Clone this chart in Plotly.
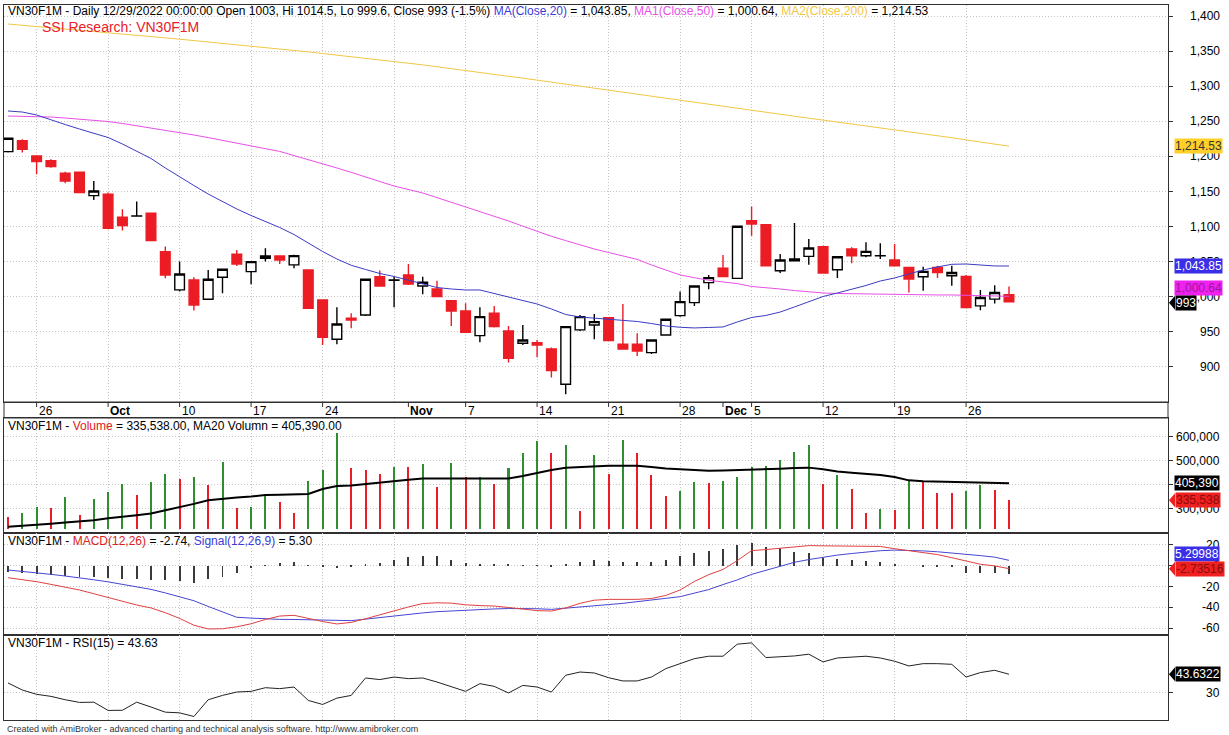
import plotly.graph_objects as go
import pandas as pd

W, H = 1229, 735

# ---------------- data ----------------
dates = pd.bdate_range("2022-09-22", "2022-12-29")

opens = [1206.8, 1222.5, 1200.6, 1194.0, 1175.9, 1177.4, 1144.1, 1146.0, 1113.3, 1115.0,
         1119.0, 1064.3, 1009.8, 1024.0, 996.5, 1027.8, 1060.6, 1035.9, 1054.9, 1058.2,
         1045.4, 1038.2, 995.5, 939.5, 969.4, 974.1, 1028.7, 1023.6, 1031.1, 1015.4,
         1011.1, 994.5, 979.8, 944.7, 976.5, 951.3, 933.8, 934.7, 925.7, 875.4,
         952.8, 959.9, 970.3, 932.3, 932.3, 920.5, 945.6, 973.2, 991.7, 1020.2,
         1040.6, 1026.2, 1108.5, 1102.8, 1037.1, 1051.4, 1057.6, 1071.4, 1038.5, 1068.1,
         1058.5, 1058.4, 1052.4, 1041.9, 1028.5, 1041.9, 1030.0, 1029.0, 987.1, 996.6,
         1003.0]
highs = [1225.8, 1224.4, 1201.0, 1195.9, 1178.3, 1177.8, 1165.0, 1148.4, 1124.7, 1135.6,
         1119.5, 1071.5, 1050.1, 1027.8, 1038.2, 1039.5, 1066.7, 1050.4, 1069.1, 1058.6,
         1060.0, 1038.6, 995.9, 985.1, 976.5, 1025.4, 1037.3, 1028.7, 1046.8, 1028.7,
         1023.0, 994.9, 990.7, 985.0, 986.9, 958.4, 959.9, 938.5, 927.6, 957.9,
         974.1, 975.5, 971.0, 989.8, 948.0, 939.5, 968.4, 1007.4, 1015.8, 1031.1,
         1059.6, 1100.8, 1128.5, 1103.2, 1060.9, 1105.2, 1082.4, 1072.8, 1057.5, 1070.4,
         1077.6, 1076.2, 1075.2, 1042.3, 1042.8, 1044.3, 1044.3, 1030.9, 1009.5, 1016.6,
         1014.5]
lows = [1205.4, 1205.4, 1174.5, 1184.0, 1161.7, 1148.0, 1138.0, 1096.2, 1094.3, 1114.8,
        1079.5, 1026.4, 1007.4, 980.3, 995.5, 1005.0, 1043.9, 1017.8, 1050.1, 1046.8,
        1040.6, 983.2, 931.4, 932.4, 955.2, 972.7, 1014.5, 985.1, 1016.9, 1003.5,
        1000.0, 958.4, 949.0, 935.2, 956.1, 906.2, 931.4, 913.8, 884.9, 861.1,
        951.3, 939.5, 937.2, 925.3, 915.7, 918.6, 945.2, 971.7, 986.9, 1010.7,
        1028.3, 1025.2, 1087.1, 1043.9, 1033.8, 1051.0, 1045.7, 1033.8, 1026.6, 1047.6,
        1056.2, 1053.8, 1043.9, 1006.2, 1008.5, 1026.6, 1015.7, 984.3, 980.9, 990.4,
        993.0]
closes = [1225.8, 1210.1, 1192.6, 1185.4, 1165.0, 1148.4, 1150.8, 1097.6, 1101.4, 1115.2,
          1080.0, 1031.1, 1032.5, 988.4, 1025.0, 1039.2, 1046.8, 1050.1, 1058.2, 1052.5,
          1058.7, 983.6, 942.3, 961.3, 967.0, 1025.0, 1015.4, 1024.0, 1018.3, 1020.6,
          1000.2, 979.8, 949.4, 971.7, 957.5, 912.4, 938.5, 931.4, 894.8, 957.5,
          971.7, 964.6, 937.6, 925.7, 922.8, 938.5, 968.0, 993.1, 1015.4, 1027.3,
          1028.7, 1100.4, 1103.8, 1044.3, 1052.4, 1053.8, 1069.5, 1033.8, 1057.1, 1058.5,
          1064.7, 1058.5, 1044.3, 1025.2, 1036.2, 1034.7, 1034.7, 984.7, 999.0, 1006.2,
          993.0]

ma20 = [1264.7, 1263.2, 1259.0, 1251.9, 1245.4, 1239.0, 1233.3, 1226.9, 1217.7, 1207.7,
        1197.0, 1183.5, 1170.7, 1158.5, 1146.4, 1135.8, 1125.1, 1115.8, 1107.3, 1098.7,
        1088.7, 1076.6, 1064.5, 1053.8, 1044.9, 1038.9, 1033.2, 1028.9, 1024.0, 1019.0,
        1013.2, 1011.1, 1009.7, 1009.7, 1004.7, 999.7, 994.7, 989.7, 982.6, 974.8,
        971.2, 969.8, 967.7, 966.2, 964.8, 961.9, 958.4, 956.6, 955.6, 956.3,
        957.0, 964.1, 970.5, 973.4, 978.3, 985.5, 993.3, 1000.4, 1005.4, 1010.4,
        1016.1, 1022.5, 1026.8, 1032.5, 1038.2, 1042.5, 1046.3, 1046.7, 1045.3, 1043.9,
        1043.85]
ma50 = [1257.5, 1257.1, 1256.6, 1256.1, 1254.7, 1253.3, 1251.9, 1249.7, 1246.9, 1243.7,
        1240.7, 1237.9, 1234.2, 1230.5, 1226.8, 1222.6, 1218.5, 1214.5, 1211.0, 1207.1,
        1201.4, 1195.6, 1189.3, 1183.5, 1177.3, 1171.2, 1164.2, 1157.8, 1153.3, 1147.9,
        1141.3, 1134.8, 1127.9, 1121.4, 1115.1, 1108.0, 1100.6, 1093.2, 1086.2, 1080.0,
        1073.8, 1068.1, 1063.1, 1058.7, 1053.3, 1045.3, 1038.2, 1031.1, 1027.2, 1023.6,
        1021.1, 1018.8, 1014.7, 1013.2, 1011.1, 1008.9, 1006.8, 1005.4, 1004.7, 1004.3,
        1004.0, 1003.7, 1003.3, 1003.0, 1002.8, 1002.6, 1002.6, 1002.1, 1001.6, 1000.9,
        1000.64]
ma200 = [1388.6, 1386.9, 1385.1, 1383.4, 1381.6, 1379.9, 1378.1, 1376.4, 1374.5, 1372.6,
         1370.8, 1368.9, 1367.0, 1365.1, 1363.2, 1361.2, 1359.1, 1357.1, 1355.0, 1353.0,
         1351.0, 1348.9, 1346.6, 1344.4, 1342.1, 1339.8, 1337.6, 1335.3, 1333.0, 1330.4,
         1327.7, 1325.1, 1322.4, 1319.8, 1317.1, 1314.5, 1311.6, 1308.7, 1305.8, 1302.9,
         1300.0, 1297.1, 1294.2, 1291.3, 1288.5, 1285.6, 1282.8, 1279.9, 1277.1, 1274.2,
         1271.4, 1268.6, 1265.7, 1262.9, 1260.1, 1257.2, 1254.4, 1251.7, 1249.0, 1246.3,
         1243.7, 1241.0, 1238.3, 1235.6, 1232.6, 1229.6, 1226.6, 1223.5, 1220.5, 1217.5,
         1214.53]

volume = [267000, 281000, 306000, 301000, 350000, 274000, 339000, 371000, 401000, 357000,
          412000, 444000, 422000, 431000, 400000, 496000, 301000, 308000, 353000, 329000,
          281000, 415000, 461000, 617000, 468000, 461000, 444000, 475000, 472000, 486000,
          392000, 489000, 431000, 433000, 403000, 468000, 531000, 582000, 531000, 565000,
          292000, 524000, 444000, 586000, 533000, 440000, 353000, 374000, 412000, 406000,
          415000, 433000, 475000, 478000, 503000, 536000, 565000, 401000, 440000, 382000,
          281000, 299000, 294000, 415000, 412000, 367000, 365000, 374000, 399000, 378000,
          335538]
vol_ma20 = [225000, 228000, 232000, 237000, 242000, 246000, 252000, 260000, 268000, 273000,
            280000, 293000, 305000, 320000, 335000, 342000, 347000, 351000, 357000, 358000,
            360000, 361000, 382000, 394000, 397000, 402000, 407000, 412000, 420000, 426000,
            426000, 426000, 426000, 426000, 426000, 426000, 436000, 450000, 461000, 470000,
            474000, 477000, 479000, 479000, 479000, 474000, 467000, 464000, 461000, 458000,
            459000, 460000, 461000, 463000, 466000, 469000, 471000, 464000, 455000, 450000,
            446000, 440000, 432000, 418000, 414000, 413000, 412000, 411000, 410000, 408000,
            405390]

macd = [-11.4, -13.2, -15.2, -17.8, -20.5, -23.2, -26.8, -30.6, -34.2, -37.6,
        -40.4, -45.0, -50.5, -57.0, -60.6, -60.4, -58.5, -55.6, -51.5, -48.2,
        -47.5, -50.8, -53.5, -55.8, -54.3, -50.8, -47.0, -43.0, -39.5, -36.2,
        -35.5, -35.8, -37.4, -38.2, -38.6, -40.0, -41.6, -43.0, -43.4, -40.4,
        -36.0, -33.0, -32.2, -32.2, -32.2, -31.4, -28.4, -23.2, -15.0, -8.5,
        -3.5, 5.0, 14.6, 15.6, 16.8, 18.2, 19.4, 19.2, 19.0, 19.1,
        19.3, 18.6, 16.4, 14.6, 12.4, 10.8, 7.8, 4.5, 1.5, -0.1,
        -2.74]
signal = [-4.0, -5.2, -6.6, -8.2, -9.8, -11.4, -13.4, -15.4, -17.8, -20.2,
          -22.6, -26.0, -29.5, -33.5, -39.0, -44.5, -49.4, -50.2, -51.0, -51.4,
          -51.5, -51.8, -52.2, -52.5, -52.6, -51.2, -49.6, -48.2, -46.8, -45.2,
          -44.0, -43.2, -42.4, -41.8, -41.4, -41.0, -40.8, -41.2, -41.8, -40.8,
          -39.6, -38.6, -37.2, -36.0, -34.6, -33.0, -31.2, -29.6, -26.4, -22.8,
          -18.0, -13.5, -8.2, -4.2, -0.5, 3.4, 6.0, 8.3, 10.3, 11.8,
          13.2, 14.5, 15.1, 14.9, 14.3, 13.5, 12.4, 11.2, 9.8, 8.3,
          5.30]
macd_hist = [-5.5, -7.0, -7.7, -8.7, -9.7, -10.3, -11.0, -12.0, -13.0, -13.0,
             -13.5, -13.5, -15.0, -16.8, -13.0, -10.3, -7.0, -2.3, 0.5, 2.6,
             3.5, 0.5, -1.0, -2.3, -1.3, 1.3, 2.6, 5.8, 8.0, 9.0,
             9.0, 5.8, 2.6, 2.0, 1.3, 1.0, 0.6, 0.3, -1.3, 1.3,
             3.2, 5.8, 4.5, 3.9, 3.2, 3.9, 6.0, 9.4, 12.0, 14.5,
             15.8, 20.0, 22.0, 18.4, 16.8, 13.5, 12.0, 7.7, 7.0, 5.5,
             4.5, 3.2, 1.6, 0.0, -0.3, -1.0, -1.6, -6.5, -6.8, -6.8,
             -8.04]

rsi = [37.2, 32.0, 28.8, 27.3, 24.8, 22.8, 23.0, 16.9, 17.0, 23.0,
       19.4, 15.6, 15.1, 12.4, 24.8, 28.0, 30.5, 31.0, 33.7, 33.0,
       34.2, 24.3, 21.3, 26.0, 28.0, 40.9, 39.7, 41.6, 40.4, 40.9,
       37.9, 34.7, 31.0, 36.7, 34.7, 29.8, 35.4, 34.2, 30.5, 42.9,
       45.3, 44.6, 41.1, 38.7, 38.7, 41.6, 47.8, 51.5, 55.2, 57.0,
       57.0, 65.9, 66.9, 56.0, 56.5, 57.2, 58.5, 52.8, 55.7, 56.5,
       57.0, 55.7, 53.3, 49.8, 51.5, 51.5, 51.0, 41.6, 44.9, 46.6,
       43.63]

price_ticks = [900, 950, 1000, 1050, 1100, 1150, 1200, 1250, 1300, 1350, 1400]
volume_ticks = [300000, 400000, 500000, 600000]
macd_ticks = [20, 0, -20, -40, -60]
rsi_ticks = [30]

# ---------------- helpers ----------------
def px(xp):
    return xp / W


def py(yp):
    return 1 - yp / H


n = len(dates)
x = list(range(n))
mondays = [i for i, d in enumerate(dates) if d.weekday() == 0]
month_starts = [i for i in range(1, n) if dates[i].month != dates[i - 1].month]
date_labels = []
for i, d in enumerate(dates):
    if i in month_starts:
        date_labels.append((i, "<b>" + d.strftime("%b") + "</b>"))
    elif d.weekday() == 0 and not any(0 < m - i <= 2 for m in month_starts):
        date_labels.append((i, str(d.day)))

RED = "#ec1c24"
FONT = "Liberation Sans, Arial, sans-serif"
GRID = "#c4c4c4"
FRAME = "#303030"

fig = go.Figure()

# price pane
fig.add_trace(go.Candlestick(
    x=x, open=opens, high=highs, low=lows, close=closes,
    increasing=dict(line=dict(color="black", width=1.4), fillcolor="white"),
    decreasing=dict(line=dict(color=RED, width=1.4), fillcolor=RED),
    whiskerwidth=0, xaxis="x", yaxis="y", hoverinfo="skip"))
fig.add_trace(go.Scatter(x=x, y=ma200, mode="lines", line=dict(color="#f2c744", width=1),
                         xaxis="x", yaxis="y"))
fig.add_trace(go.Scatter(x=x, y=ma50, mode="lines", line=dict(color="#e84fe8", width=1),
                         xaxis="x", yaxis="y"))
fig.add_trace(go.Scatter(x=x, y=ma20, mode="lines", line=dict(color="#3b3bc4", width=1),
                         xaxis="x", yaxis="y"))

# volume pane
vol_base = 215000
vol_colors = [RED] + ["#2f8f2f" if volume[i] > volume[i - 1] else RED for i in range(1, n)]
fig.add_trace(go.Bar(x=x, y=[v - vol_base for v in volume], base=vol_base, width=0.14,
                     marker=dict(color=vol_colors, line=dict(width=0)),
                     xaxis="x2", yaxis="y2"))
fig.add_trace(go.Scatter(x=x, y=vol_ma20, mode="lines", line=dict(color="black", width=2),
                         xaxis="x2", yaxis="y2"))

# MACD pane
fig.add_trace(go.Bar(x=x, y=macd_hist, width=0.07, marker=dict(color="#3a3a3a", line=dict(width=0)),
                     xaxis="x3", yaxis="y3"))
fig.add_trace(go.Scatter(x=x, y=signal, mode="lines", line=dict(color="#4646d2", width=1),
                         xaxis="x3", yaxis="y3"))
fig.add_trace(go.Scatter(x=x, y=macd, mode="lines", line=dict(color="#e04040", width=1),
                         xaxis="x3", yaxis="y3"))

# RSI pane
fig.add_trace(go.Scatter(x=x, y=rsi, mode="lines", line=dict(color="#222222", width=1),
                         xaxis="x4", yaxis="y4"))

x_range = [-0.28, 81.12]
x_dom = [px(4), px(1168)]
panes = {
    "": ([py(402), py(5)], [850.1, 1415.7], price_ticks),
    "2": ([py(533), py(418)], [198600, 677800], volume_ticks),
    "3": ([py(635), py(533)], [-66.4, 31.5], macd_ticks),
    "4": ([py(720), py(635)], [9.8, 72.7], rsi_ticks),
}
layout = dict(
    width=W, height=H, margin=dict(l=0, r=0, t=0, b=0),
    paper_bgcolor="white", plot_bgcolor="white", showlegend=False,
    boxgap=0.25, boxgroupgap=0.1, bargap=0,
    font=dict(family=FONT, size=12, color="black"),
)
for k, (dom, rng, ticks) in panes.items():
    layout["xaxis" + k] = dict(
        domain=x_dom, range=x_range, anchor="y" + k, tickvals=mondays,
        showticklabels=False, ticks="", showgrid=True, gridcolor=GRID, griddash="1px,2px",
        gridwidth=1, showline=True, mirror=True, linecolor=FRAME, linewidth=1,
        zeroline=False, fixedrange=True, rangeslider=dict(visible=False))
    layout["yaxis" + k] = dict(
        domain=dom, range=rng, anchor="x" + k, side="right", tickvals=ticks,
        showticklabels=False, ticks="outside", ticklen=4, tickcolor=FRAME,
        showgrid=True, gridcolor=GRID, griddash="1px,2px", gridwidth=1,
        showline=True, mirror=True, linecolor=FRAME, linewidth=1,
        zeroline=False, fixedrange=True)
fig.update_layout(**layout)

annotations = []
shapes = []


def text(xp, yp, t, size=12, color="black", anchor="left"):
    annotations.append(dict(xref="paper", yref="paper", x=px(xp), y=py(yp), text=t,
                            showarrow=False, xanchor=anchor, yanchor="middle",
                            font=dict(family=FONT, size=size, color=color)))


# titles
text(6, 11,
     "VN30F1M - Daily 12/29/2022 00:00:00 Open 1003, Hi 1014.5, Lo 999.6, Close 993 (-1.5%) "
     "<span style='color:#3b3bd8'>MA(Close,20)</span> = 1,043.85, "
     "<span style='color:#e84fe8'>MA1(Close,50)</span> = 1,000.64, "
     "<span style='color:#f2c744'>MA2(Close,200)</span> = 1,214.53")
text(40, 27, "SSI Research: VN30F1M", size=14, color="#e8202a")
text(6, 426, "VN30F1M - <span style='color:#e02020'>Volume</span> = 335,538.00, "
             "MA20 Volumn = 405,390.00")
text(6, 541, "VN30F1M - <span style='color:#e02020'>MACD(12,26)</span> = -2.74, "
             "<span style='color:#3b3bd8'>Signal(12,26,9)</span> = 5.30")
text(6, 643, "VN30F1M - RSI(15) = 43.63")
text(5, 729, "Created with AmiBroker - advanced charting and technical analysis software. "
             "http://www.amibroker.com", size=9, color="#333333")

# right-axis tick labels
for k, (dom, rng, ticks) in panes.items():
    for t in ticks:
        annotations.append(dict(xref="paper", yref="y" + k, x=px(1222), y=t,
                                text=f"{t:,}", showarrow=False, xanchor="right",
                                yanchor="middle", font=dict(family=FONT, size=12)))

# date strip
shapes.append(dict(type="rect", xref="paper", yref="paper", x0=px(4), x1=px(1168),
                   y0=py(418), y1=py(402), line=dict(color=FRAME, width=1)))
for i, lab in date_labels:
    shapes.append(dict(type="line", xref="x", yref="paper", x0=i, x1=i, y0=py(402),
                       y1=py(407), line=dict(color=FRAME, width=1)))
    annotations.append(dict(xref="x", yref="paper", x=i, y=py(410.5), text=lab,
                            showarrow=False, xanchor="left", yanchor="middle", xshift=0,
                            font=dict(family=FONT, size=12)))


# value tags
def tag(yref, val, label, bg, fg="white", shift=0, arrow=False, x0=1174):
    annotations.append(dict(xref="paper", yref=yref, x=px(x0), y=val, yshift=shift,
                            text=label, showarrow=False, xanchor="left", yanchor="middle",
                            bgcolor=bg, borderpad=0,
                            font=dict(family=FONT, size=12, color=fg)))
    if arrow:
        shapes.append(dict(type="path", xref="paper", yref=yref, xsizemode="pixel",
                           ysizemode="pixel", xanchor=px(1168), yanchor=val,
                           path=f"M 1 {shift} L 7 {shift + 7} L 7 {shift - 7} Z",
                           fillcolor=bg, line=dict(width=0)))


tag("y", ma200[-1], "1,214.53", "#ffd02a", fg="#333333")
tag("y", ma20[-1], "1,043.85", "#3a2ee8")
tag("y", ma50[-1], "1,000.64", "#f020f0", fg="#9a1a9a", shift=8)
tag("y", closes[-1], "993", "black", shift=-1, arrow=True, x0=1175)
tag("y2", vol_ma20[-1], "405,390", "black")
tag("y2", volume[-1], "335,538", "#ee2020", fg="#8a0c0c", arrow=True, x0=1175)
tag("y3", signal[-1], "5.29988", "#3a2ee8", shift=6)
tag("y3", macd[-1], "-2.73516", "#ee2020", fg="#8a0c0c", arrow=True, x0=1175)
tag("y4", rsi[-1], "43.6322", "black", arrow=True, x0=1175)

fig.update_layout(annotations=annotations, shapes=shapes)
fig.write_html("out.html")
